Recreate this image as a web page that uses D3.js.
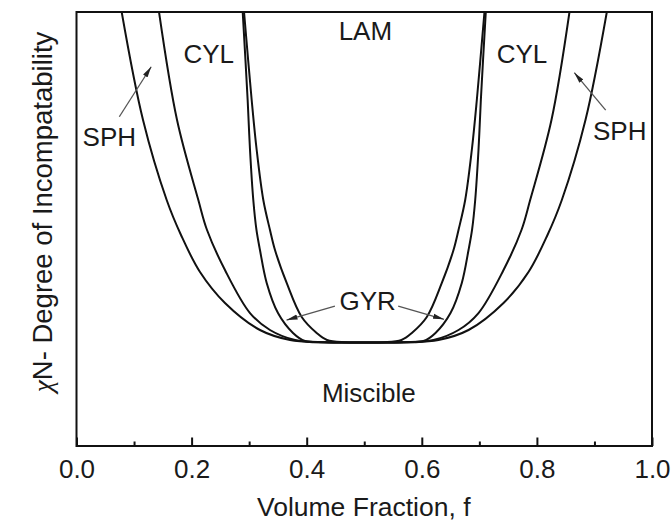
<!DOCTYPE html>
<html>
<head>
<meta charset="utf-8">
<script src="https://cdn.jsdelivr.net/npm/d3@7"></script>
<style>
  html, body { margin: 0; padding: 0; background: #fff; }
  svg text { font-family: "Liberation Sans", Arial, sans-serif; fill: #1a1a1a; }
</style>
</head>
<body>
<svg id="chart" width="672" height="524"></svg>
<script>
// ---- Data (volume fraction f, chiN) ----
const sphF    = [0.0785, 0.1156, 0.1567, 0.1816, 0.2146, 0.2580, 0.3188, 0.3710, 0.4231, 0.5, 0.5769, 0.6290, 0.6812, 0.7420, 0.7854, 0.8184, 0.8433, 0.8844, 0.9215];
const sphChiN = [44, 33.05, 24.94, 21.39, 17.64, 14.50, 11.76, 10.75, 10.52, 10.5, 10.52, 10.75, 11.76, 14.50, 17.64, 21.39, 24.94, 33.05, 44];

const cylF    = [0.1434, 0.1747, 0.2117, 0.2268, 0.2580, 0.3015, 0.3362, 0.3797, 0.4318, 0.5, 0.5682, 0.6203, 0.6638, 0.6985, 0.7420, 0.7732, 0.7883, 0.8253, 0.8566];
const cylChiN = [44, 33.05, 24.94, 21.90, 17.84, 13.48, 11.76, 10.75, 10.52, 10.5, 10.52, 10.75, 11.76, 13.48, 17.84, 21.90, 24.94, 33.05, 44];

const gyrF    = [0.2888, 0.2974, 0.3015, 0.3072, 0.3127, 0.3188, 0.3305, 0.3501, 0.3762, 0.3970, 0.4318, 0.5, 0.5682, 0.6030, 0.6238, 0.6499, 0.6695, 0.6812, 0.6873, 0.6928, 0.6985, 0.7026, 0.7112];
const gyrChiN = [44, 35.08, 30.01, 24.94, 21.90, 19.87, 16.53, 13.48, 11.46, 10.64, 10.52, 10.5, 10.52, 10.64, 11.46, 13.48, 16.53, 19.87, 21.90, 24.94, 30.01, 35.08, 44];

const lamF    = [0.2911, 0.3044, 0.3131, 0.3246, 0.3362, 0.3449, 0.3652, 0.3913, 0.4173, 0.4353, 0.4665, 0.5, 0.5335, 0.5647, 0.5827, 0.6087, 0.6348, 0.6551, 0.6638, 0.6754, 0.6869, 0.6956, 0.7089];
const lamChiN = [44, 35.08, 30.01, 24.94, 21.90, 19.87, 16.53, 13.08, 11.46, 10.75, 10.52, 10.5, 10.52, 10.75, 11.46, 13.08, 16.53, 19.87, 21.90, 24.94, 30.01, 35.08, 44];

const majorTicks = [0.0, 0.2, 0.4, 0.6, 0.8, 1.0];
const minorTicks = [0.1, 0.3, 0.5, 0.7, 0.9];

const labelText = ["LAM", "Miscible", "CYL", "CYL", "SPH", "SPH", "GYR"];
const labelF    = [0.502, 0.508, 0.2297, 0.774, 0.057, 0.944, 0.506];
const labelChiN = [41.16, 4.49, 38.8, 38.8, 30.41, 31.02, 13.79];

const arrowFromF    = [0.0744, 0.9195, 0.449, 0.559];
const arrowFromChiN = [33.38, 34.06, 14.19, 14.19];
const arrowToF      = [0.1298, 0.865, 0.365, 0.6386];
const arrowToChiN   = [38.45, 37.85, 12.77, 12.85];

const xTitle = "Volume Fraction, f";
const yTitleSymbol = "\u03C7";
const yTitleRest = "N- Degree of Incompatability";

// ---- Layout ----
const mLeft = 76.5, mRight = 652, mTop = 12, mBottom = 446;
const svg = d3.select("#chart");

const x = d3.scaleLinear().domain([0, 1]).range([mLeft, mRight]);
const y = d3.scaleLinear().domain([0, 44]).range([mBottom, mTop]);

const defs = svg.append("defs");
defs.append("clipPath").attr("id", "plotClip")
  .append("rect").attr("x", mLeft).attr("y", mTop).attr("width", mRight - mLeft).attr("height", mBottom - mTop);

defs.append("marker")
  .attr("id", "arrowHead").attr("viewBox", "0 -3 11 6")
  .attr("refX", 11).attr("refY", 0)
  .attr("markerWidth", 11).attr("markerHeight", 6)
  .attr("markerUnits", "userSpaceOnUse")
  .attr("orient", "auto")
  .append("path").attr("d", "M0,-2.6L11,0L0,2.6Z").attr("fill", "#222");

const line = d3.line()
  .x(d => x(d[0]))
  .y(d => y(d[1]))
  .curve(d3.curveCatmullRom.alpha(0.5));

const curves = [
  d3.zip(sphF, sphChiN),
  d3.zip(cylF, cylChiN),
  d3.zip(gyrF, gyrChiN),
  d3.zip(lamF, lamChiN)
];

svg.append("g").attr("clip-path", "url(#plotClip)")
  .selectAll("path").data(curves).join("path")
  .attr("d", line)
  .attr("fill", "none")
  .attr("stroke", "#111")
  .attr("stroke-width", 2);

// Frame
svg.append("rect")
  .attr("x", mLeft).attr("y", mTop)
  .attr("width", mRight - mLeft).attr("height", mBottom - mTop)
  .attr("fill", "none").attr("stroke", "#111").attr("stroke-width", 2);

// X axis (ticks inward)
const xAxis = d3.axisBottom(x).tickValues(majorTicks).tickFormat(d3.format(".1f"))
  .tickSizeInner(-8.5).tickSizeOuter(0).tickPadding(13.5);
const gx = svg.append("g").attr("transform", `translate(0,${mBottom})`).call(xAxis);
gx.select(".domain").remove();
gx.selectAll(".tick line").attr("stroke", "#111").attr("stroke-width", 2);
gx.selectAll(".tick text").attr("font-size", 26).attr("font-family", "Liberation Sans, Arial, sans-serif").attr("fill", "#1a1a1a");

const xMinor = d3.axisBottom(x).tickValues(minorTicks).tickFormat("").tickSizeInner(-4.5).tickSizeOuter(0);
const gxm = svg.append("g").attr("transform", `translate(0,${mBottom})`).call(xMinor);
gxm.select(".domain").remove();
gxm.selectAll(".tick line").attr("stroke", "#111").attr("stroke-width", 2);

// Axis titles
svg.append("text")
  .attr("x", (mLeft + mRight) / 2 - 0.5).attr("y", 516)
  .attr("text-anchor", "middle").attr("font-size", 26.5)
  .text(xTitle);

const yt = svg.append("text")
  .attr("transform", "translate(52,212) rotate(-90)")
  .attr("text-anchor", "middle").attr("font-size", 27.5);
yt.append("tspan").attr("font-family", "Liberation Serif, serif").attr("font-style", "italic").text(yTitleSymbol);
yt.append("tspan").text(yTitleRest);

// Region labels
svg.append("g").selectAll("text").data(d3.range(labelText.length)).join("text")
  .attr("x", i => x(labelF[i]))
  .attr("y", i => y(labelChiN[i]))
  .attr("text-anchor", "middle")
  .attr("font-size", 26)
  .text(i => labelText[i]);

// Arrows
svg.append("g").selectAll("line").data(d3.range(arrowFromF.length)).join("line")
  .attr("x1", i => x(arrowFromF[i])).attr("y1", i => y(arrowFromChiN[i]))
  .attr("x2", i => x(arrowToF[i])).attr("y2", i => y(arrowToChiN[i]))
  .attr("stroke", "#555").attr("stroke-width", 1.3)
  .attr("marker-end", "url(#arrowHead)");
</script>
</body>
</html>
